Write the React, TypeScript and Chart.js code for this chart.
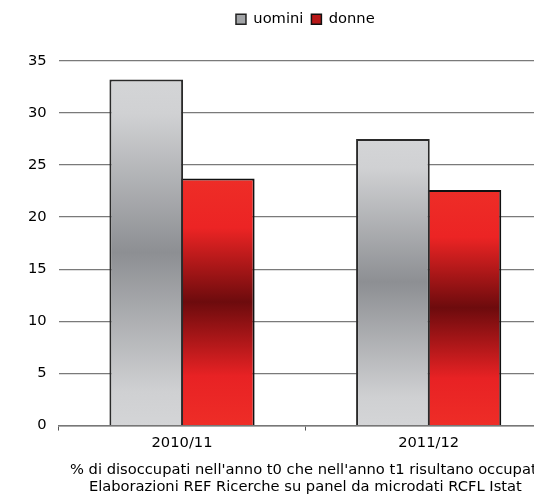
import React, { useEffect, useRef } from "react";
import { Chart, registerables } from "chart.js";

Chart.register(...registerables);

const categories = ["2010/11", "2011/12"];
const seriesNames = ["uomini", "donne"];
const uomini = [33.2, 27.5];
const donne = [23.7, 22.6];
const yTicks = { min: 0, max: 35, step: 5 };
const axisTitle = [
  "% di disoccupati nell'anno t0 che nell'anno t1 risultano occupati",
  "Elaborazioni REF Ricerche su panel da microdati RCFL Istat",
];

const FONT = "'DejaVu Sans', Verdana, sans-serif";
const FS = 14.7;

const grayStops: [number, string][] = [
  [0, "#d4d5d7"],
  [0.1, "#d0d1d3"],
  [0.5, "#8d8f93"],
  [0.9, "#cfd0d2"],
  [1, "#d4d5d7"],
];
const redStops: [number, string][] = [
  [0, "#ee2d27"],
  [0.2, "#ec2424"],
  [0.5, "#6d0b0d"],
  [0.8, "#e82224"],
  [1, "#ee2d27"],
];

function makeGradient(stops: [number, string][], fallback: string) {
  return (ctx: any) => {
    const chart = ctx.chart;
    if (!chart.chartArea || ctx.type !== "data") return fallback;
    const ys = chart.scales.y;
    const v = ctx.raw as number;
    const top = ys.getPixelForValue(v);
    const bottom = ys.getPixelForValue(0);
    if (!isFinite(top) || !isFinite(bottom) || top === bottom) return fallback;
    const g = chart.ctx.createLinearGradient(0, top, 0, bottom);
    stops.forEach(([o, c]) => g.addColorStop(o, c));
    return g;
  };
}

export default function App() {
  const ref = useRef<HTMLCanvasElement>(null);
  useEffect(() => {
    if (!ref.current) return;
    const chart = new Chart(ref.current, {
      type: "bar",
      data: {
        labels: categories,
        datasets: [
          {
            label: seriesNames[0],
            data: uomini,
            backgroundColor: makeGradient(grayStops, "#a0a2a5"),
            borderColor: "#2a2a2a",
            borderWidth: 2,
            categoryPercentage: 0.58,
            barPercentage: 1.03,
          },
          {
            label: seriesNames[1],
            data: donne,
            backgroundColor: makeGradient(redStops, "#b01515"),
            borderColor: "#111111",
            borderWidth: 2,
            categoryPercentage: 0.58,
            barPercentage: 1.03,
          },
        ],
      },
      options: {
        responsive: false,
        animation: false,
        layout: { padding: { left: 16, right: 58, top: 4, bottom: 2 } },
        plugins: {
          tooltip: { enabled: false },
          legend: {
            position: "top",
            fullSize: false,
            labels: {
              font: { family: FONT, size: FS },
              color: "#000",
              boxWidth: 10,
              boxHeight: 10,
              padding: 8,
              generateLabels: () => [
                {
                  text: seriesNames[0],
                  fillStyle: "#a2a4a7",
                  strokeStyle: "#222",
                  lineWidth: 1.5,
                  datasetIndex: 0,
                  hidden: false,
                },
                {
                  text: seriesNames[1],
                  fillStyle: "#b81818",
                  strokeStyle: "#111",
                  lineWidth: 1.5,
                  datasetIndex: 1,
                  hidden: false,
                },
              ],
            },
          },
        },
        scales: {
          x: {
            grid: {
              display: true,
              drawOnChartArea: false,
              drawTicks: true,
              tickLength: 5,
              color: "#555",
              offset: true,
            },
            border: { display: true, color: "#777", width: 1.5 },
            ticks: { color: "#000", font: { family: FONT, size: FS }, padding: 4 },
            title: {
              display: true,
              text: axisTitle,
              color: "#000",
              font: { family: FONT, size: FS, lineHeight: 1.15 },
              padding: { top: 6, bottom: 0 },
            },
          },
          y: {
            min: yTicks.min,
            max: yTicks.max,
            grid: { color: "#7a7a7a", drawTicks: false, lineWidth: 1.2 },
            border: { display: false },
            ticks: {
              stepSize: yTicks.step,
              color: "#000",
              font: { family: FONT, size: FS },
              padding: 12,
            },
          },
        },
      },
      plugins: [
        {
          id: "legendMargin",
          beforeInit(c: any) {
            const legend = c.legend;
            if (!legend) return;
            const orig = legend.fit;
            legend.fit = function () {
              orig.call(this);
              this.height += 24;
            };
          },
        },
      ],
    });
    return () => chart.destroy();
  }, []);
  return (
    <div
      style={{
        position: "fixed",
        left: 0,
        top: 0,
        width: 534,
        height: 498,
        overflow: "hidden",
        background: "#fff",
      }}
    >
      <canvas ref={ref} width={610} height={498} style={{ width: 610, height: 498 }} />
    </div>
  );
}
